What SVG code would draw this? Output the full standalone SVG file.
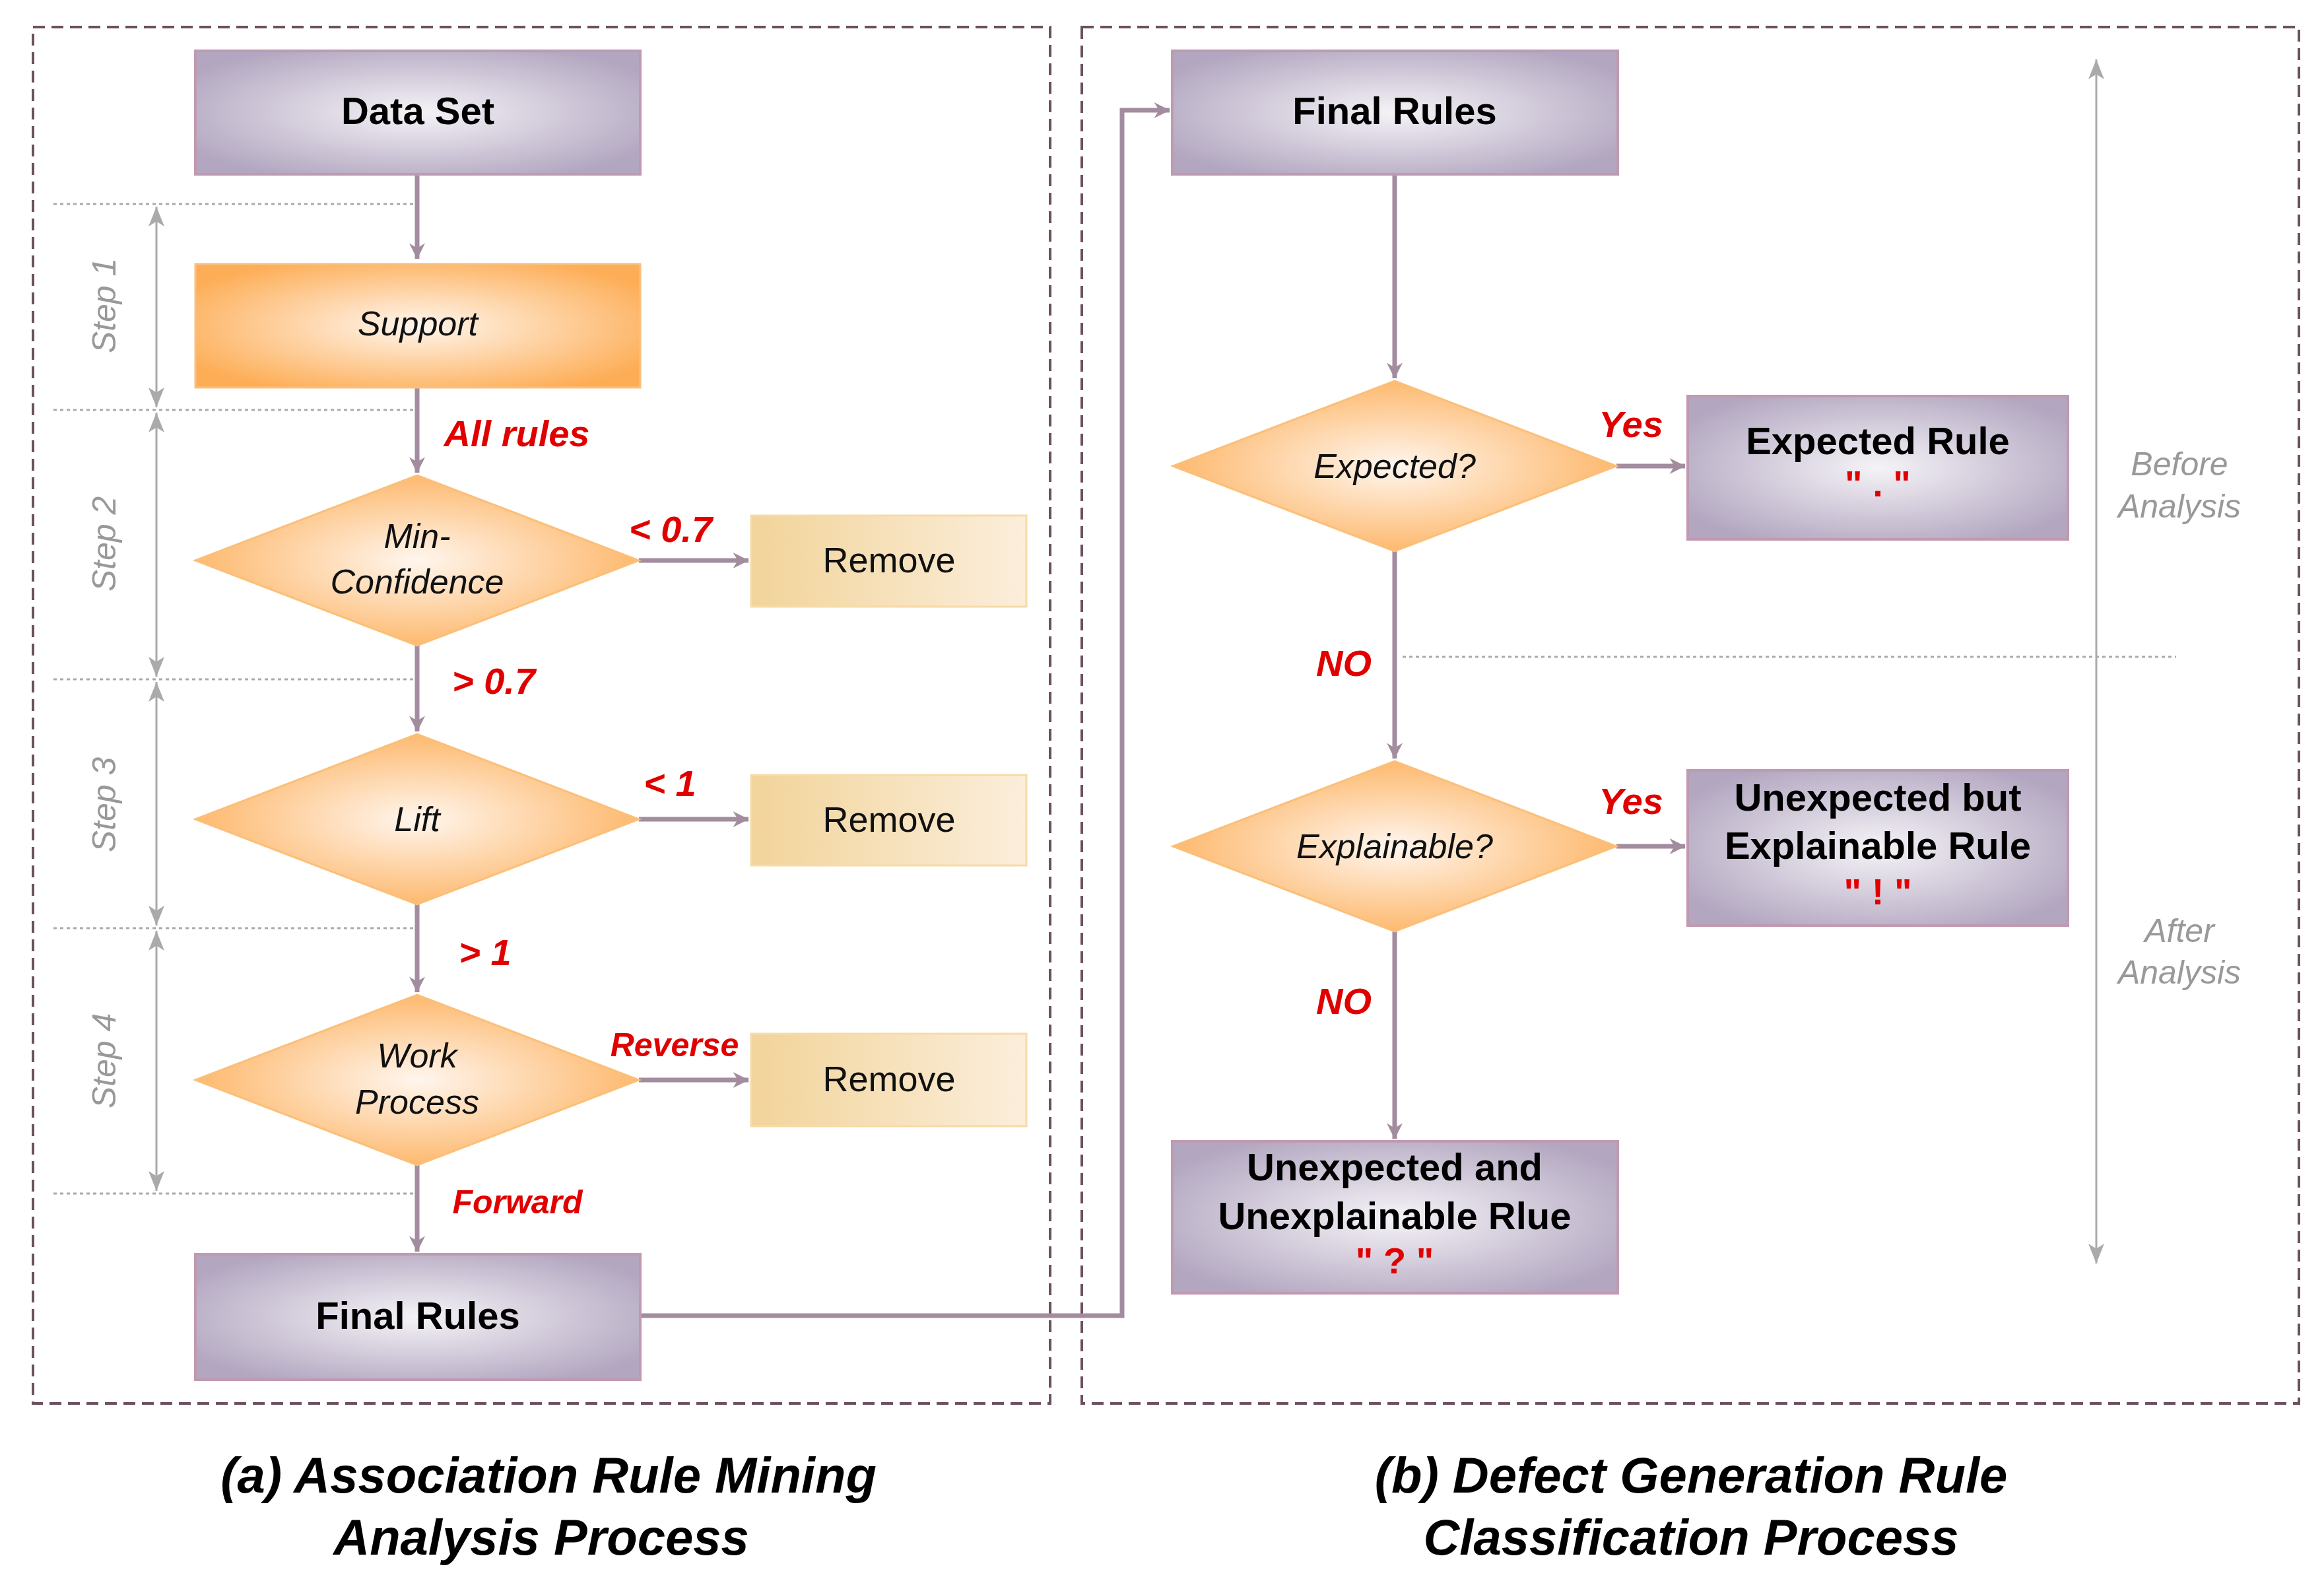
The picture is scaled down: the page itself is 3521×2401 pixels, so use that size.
<svg xmlns="http://www.w3.org/2000/svg" width="3521" height="2401" viewBox="0 0 3521 2401">
<style>
.frame{fill:none;stroke:#6b5060;stroke-width:4;stroke-dasharray:18 10}
.pbox{fill:url(#gP);stroke:#c09ab0;stroke-width:4}
.obox{fill:url(#gO);stroke:#f8c080;stroke-width:3}
.rbox{fill:url(#gR);stroke:#f6dba8;stroke-width:3}
.dia{fill:url(#gO);stroke:#fbbf78;stroke-width:3}
.c{fill:none;stroke:#a28c9e;stroke-width:7}
.thin{fill:none;stroke:#aaa;stroke-width:3}
.dot{fill:none;stroke:#aaa;stroke-width:3;stroke-dasharray:5 5}
text{font-family:"Liberation Sans",Arial,sans-serif;text-anchor:middle}
.b{font-weight:bold;font-size:58px;fill:#000}
.i{font-style:italic;font-size:52px;fill:#111}
.n{font-size:54px;fill:#111}
.red{font-weight:bold;font-style:italic;fill:#e00000;font-size:56px}
.gr{font-style:italic;font-size:50px;fill:#999}
.cap{font-weight:bold;font-style:italic;font-size:76px;fill:#000}
</style>
<defs>
<radialGradient id="gP" cx="0.5" cy="0.5" r="0.6"><stop offset="0" stop-color="#f5f3f7"/><stop offset="1" stop-color="#b2a6c0"/></radialGradient>
<radialGradient id="gO" cx="0.5" cy="0.5" r="0.6"><stop offset="0" stop-color="#fff6ee"/><stop offset="1" stop-color="#fdad55"/></radialGradient>
<linearGradient id="gR" x1="0" x2="1"><stop offset="0" stop-color="#f2d49a"/><stop offset="1" stop-color="#fbeedb"/></linearGradient>
<marker id="a" viewBox="0 0 20 20" refX="18" refY="10" markerWidth="6" markerHeight="6" markerUnits="userSpaceOnUse" orient="auto" style="overflow:visible">
<path d="M0,0 L20,10 L0,20 L6,10 Z" fill="#a28c9e" transform="scale(4) translate(-15,-7.5)"/>
</marker>
<marker id="g" viewBox="0 0 20 20" refX="20" refY="10" markerWidth="30" markerHeight="30" markerUnits="userSpaceOnUse" orient="auto-start-reverse">
<path d="M0,2 L20,10 L0,18 L5,10 Z" fill="#aaa"/>
</marker>
</defs>
<rect class="frame" x="50" y="41" width="1541" height="2085"/>
<rect class="frame" x="1639" y="41" width="1844" height="2085"/>

<g id="steps">
<path class="dot" d="M81,309H627M81,621H627M81,1029H627M81,1406H627M81,1808H627"/>
<path class="thin" marker-start="url(#g)" marker-end="url(#g)" d="M237,313V617"/>
<path class="thin" marker-start="url(#g)" marker-end="url(#g)" d="M237,625V1025"/>
<path class="thin" marker-start="url(#g)" marker-end="url(#g)" d="M237,1033V1402"/>
<path class="thin" marker-start="url(#g)" marker-end="url(#g)" d="M237,1410V1804"/>
<text class="gr" transform="translate(175,463) rotate(-90)">Step 1</text>
<text class="gr" transform="translate(175,824) rotate(-90)">Step 2</text>
<text class="gr" transform="translate(175,1219) rotate(-90)">Step 3</text>
<text class="gr" transform="translate(175,1607) rotate(-90)">Step 4</text>
</g>

<g id="connectors">
<path class="c" d="M632,264V392" marker-end="url(#a)"/>
<path class="c" d="M632,587V716" marker-end="url(#a)"/>
<path class="c" d="M968,849H1134" marker-end="url(#a)"/>
<path class="c" d="M632,978V1108" marker-end="url(#a)"/>
<path class="c" d="M968,1241H1134" marker-end="url(#a)"/>
<path class="c" d="M632,1370V1503" marker-end="url(#a)"/>
<path class="c" d="M968,1636H1134" marker-end="url(#a)"/>
<path class="c" d="M632,1765V1896" marker-end="url(#a)"/>
<path class="c" d="M970,1993H1700V167H1772" marker-end="url(#a)"/>
<path class="c" d="M2113,264V573" marker-end="url(#a)"/>
<path class="c" d="M2449,706H2553" marker-end="url(#a)"/>
<path class="c" d="M2113,835V1149" marker-end="url(#a)"/>
<path class="c" d="M2449,1282H2553" marker-end="url(#a)"/>
<path class="c" d="M2113,1411V1725" marker-end="url(#a)"/>
<path class="thin" marker-start="url(#g)" marker-end="url(#g)" d="M3176,90V1914"/>
<path class="dot" d="M2125,995H3297"/>
<text class="red" x="783" y="676">All rules</text>
<text class="red" x="1016" y="821">&lt; 0.7</text>
<text class="red" x="748" y="1051">&gt; 0.7</text>
<text class="red" x="1015" y="1206">&lt; 1</text>
<text class="red" x="735" y="1462">&gt; 1</text>
<text class="red" x="1022" y="1600" style="font-size:50px">Reverse</text>
<text class="red" x="784" y="1838" style="font-size:50px">Forward</text>
<text class="red" x="2471" y="662">Yes</text>
<text class="red" x="2036" y="1024">NO</text>
<text class="red" x="2471" y="1233">Yes</text>
<text class="red" x="2036" y="1536">NO</text>
<text class="gr" x="3302" y="720">Before</text>
<text class="gr" x="3302" y="784">Analysis</text>
<text class="gr" x="3302" y="1427">After</text>
<text class="gr" x="3302" y="1490">Analysis</text>
</g>

<g id="n-dataset"><rect class="pbox" x="296" y="77" width="674" height="187"/><text class="b" x="633" y="188">Data Set</text></g>
<g id="n-support"><rect class="obox" x="296" y="400" width="674" height="187"/><text class="i" x="633" y="508">Support</text></g>
<g id="n-minconf"><path class="dia" d="M296,849L632,720L968,849L632,978Z"/><text class="i" x="632" y="830">Min-</text><text class="i" x="632" y="899">Confidence</text></g>
<g id="n-remove1"><rect class="rbox" x="1138" y="781" width="417" height="138"/><text class="n" x="1347" y="867">Remove</text></g>
<g id="n-lift"><path class="dia" d="M296,1241L632,1112L968,1241L632,1370Z"/><text class="i" x="632" y="1259">Lift</text></g>
<g id="n-remove2"><rect class="rbox" x="1138" y="1174" width="417" height="137"/><text class="n" x="1347" y="1260">Remove</text></g>
<g id="n-work"><path class="dia" d="M296,1636L632,1507L968,1636L632,1765Z"/><text class="i" x="632" y="1617">Work</text><text class="i" x="632" y="1687">Process</text></g>
<g id="n-remove3"><rect class="rbox" x="1138" y="1566" width="417" height="140"/><text class="n" x="1347" y="1653">Remove</text></g>
<g id="n-final1"><rect class="pbox" x="296" y="1900" width="674" height="190"/><text class="b" x="633" y="2013">Final Rules</text></g>

<g id="n-final2"><rect class="pbox" x="1776" y="77" width="675" height="187"/><text class="b" x="2113" y="188">Final Rules</text></g>
<g id="n-expected"><path class="dia" d="M1777,706L2113,577L2449,706L2113,835Z"/><text class="i" x="2113" y="724">Expected?</text></g>
<g id="n-exprule"><rect class="pbox" x="2557" y="600" width="576" height="217"/><text class="b" x="2845" y="688">Expected Rule</text><text class="red" x="2845" y="752" style="font-style:normal">" . "</text></g>
<g id="n-explainable"><path class="dia" d="M1777,1282L2113,1153L2449,1282L2113,1411Z"/><text class="i" x="2113" y="1300">Explainable?</text></g>
<g id="n-unexpexp"><rect class="pbox" x="2557" y="1167" width="576" height="235"/><text class="b" x="2845" y="1228">Unexpected but</text><text class="b" x="2845" y="1301">Explainable Rule</text><text class="red" x="2845" y="1370" style="font-style:normal">" ! "</text></g>
<g id="n-unexpunexp"><rect class="pbox" x="1776" y="1729" width="675" height="230"/><text class="b" x="2113" y="1788">Unexpected and</text><text class="b" x="2113" y="1862">Unexplainable Rlue</text><text class="red" x="2113" y="1929" style="font-style:normal">" ? "</text></g>

<text class="cap" x="831" y="2261">(a) Association Rule Mining</text>
<text class="cap" x="820" y="2355">Analysis Process</text>
<text class="cap" x="2562" y="2261">(b) Defect Generation Rule</text>
<text class="cap" x="2562" y="2355">Classification Process</text>
</svg>
